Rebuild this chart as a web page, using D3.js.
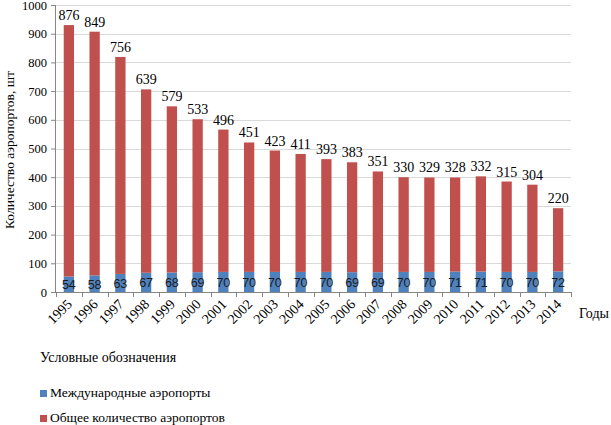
<!DOCTYPE html>
<html><head><meta charset="utf-8">
<script src="https://cdn.jsdelivr.net/npm/d3@7"></script>
<style>body{margin:0;background:#fff}svg{display:block}</style>
</head><body><svg id="c" width="611" height="425"></svg>
<script>
const years = ["1995","1996","1997","1998","1999","2000","2001","2002","2003","2004","2005","2006","2007","2008","2009","2010","2011","2012","2013","2014"];
const international = [54,58,63,67,68,69,70,70,70,70,70,69,69,70,70,71,71,70,70,72];
const total = [876,849,756,639,579,533,496,451,423,411,393,383,351,330,329,328,332,315,304,220];
const yTicks = [0,100,200,300,400,500,600,700,800,900,1000];
const seriesNames = ["Международные аэропорты","Общее количество аэропортов"];
const colors = ["#4F81BD","#C0504D"];

const SERIF = "Liberation Serif";
const SANS = "Liberation Sans";
const svg = d3.select("#c");
const m = {l:56, r:571, t:5, b:292};
const x = d3.scaleBand().domain(years).range([m.l, m.r]).paddingInner(0.6).paddingOuter(0.3);
const xb = d3.scaleBand().domain(years).range([m.l, m.r]);
const y = d3.scaleLinear().domain([0,1000]).range([m.b, m.t]);

// gridlines
svg.append("g").selectAll("line").data(yTicks.filter(d=>d>0)).join("line")
  .attr("x1", m.l).attr("x2", m.r).attr("y1", d=>Math.round(y(d))+0.5).attr("y2", d=>Math.round(y(d))+0.5)
  .attr("stroke","#d9d9d9").attr("stroke-width",1);

// y axis
const ya = svg.append("g").attr("transform",`translate(${m.l},0)`)
  .call(d3.axisLeft(y).tickValues(yTicks).tickFormat(d3.format("d")).tickSize(5).tickPadding(4));
ya.attr("font-family",SERIF).attr("font-size",12.5);
ya.select(".domain").attr("stroke","#868686").attr("d",`M-0.5,${m.t}V${m.b}`);
ya.selectAll(".tick line").attr("stroke","#868686");
ya.selectAll("text").attr("fill","#000");

// bars
const stackData = years.map((yr,i)=>({yr, a:international[i], b:total[i]}));
const stack = d3.stack().keys(["a","b"])(stackData);
svg.append("g").selectAll("g").data(stack).join("g").attr("fill",(d,i)=>colors[i])
  .selectAll("rect").data(d=>d).join("rect")
  .attr("x", d=>x(d.data.yr)).attr("width", x.bandwidth())
  .attr("y", d=>y(d[1])).attr("height", d=>y(d[0])-y(d[1]));

// x axis
const xa = svg.append("g").attr("transform",`translate(0,${m.b})`);
xa.append("line").attr("x1",m.l).attr("x2",m.r).attr("y1",0.5).attr("y2",0.5).attr("stroke","#868686");
xa.selectAll(".tk").data(years.concat(["end"])).join("line")
  .attr("x1",(d,i)=>Math.round(m.l+i*xb.step())+0.5).attr("x2",(d,i)=>Math.round(m.l+i*xb.step())+0.5)
  .attr("y1",0).attr("y2",5).attr("stroke","#868686");
xa.selectAll("text").data(years).join("text")
  .attr("transform", d=>`translate(${xb(d)+xb.bandwidth()/2+4},${13}) rotate(-45)`)
  .attr("text-anchor","end").attr("font-size",14).attr("font-family",SERIF).text(d=>d);

// labels
svg.append("g").selectAll("text").data(stackData).join("text")
  .attr("x", d=>x(d.yr)+x.bandwidth()/2).attr("y", d=>y(d.a+d.b)-5)
  .attr("text-anchor","middle").attr("font-size",14).attr("font-family",SERIF).text(d=>d.b);
svg.append("g").selectAll("text").data(stackData).join("text")
  .attr("x", d=>x(d.yr)+x.bandwidth()/2).attr("y", d=>y(d.a/2)+5)
  .attr("text-anchor","middle").attr("font-size",12.5).attr("fill","#1a1a1a").attr("font-family",SANS).text(d=>d.a);

// axis titles
svg.append("text").attr("transform",`translate(14,${150}) rotate(-90)`)
  .attr("text-anchor","middle").attr("font-size",13.5).attr("font-family",SERIF).text("Количество аэропортов, шт");
svg.append("text").attr("x",579).attr("y",318).attr("font-size",14).attr("font-family",SERIF).text("Годы");

// legend
svg.append("text").attr("x",40).attr("y",362).attr("font-size",14).attr("font-family",SERIF).text("Условные обозначения");
const lg = svg.append("g").selectAll("g").data(seriesNames).join("g")
  .attr("transform",(d,i)=>`translate(40,${390+i*25})`);
lg.append("rect").attr("width",7).attr("height",7).attr("fill",(d,i)=>colors[i]);
lg.append("text").attr("x",10).attr("y",7).attr("font-size",13.5).attr("font-family",SERIF).text(d=>d);
</script></body></html>
